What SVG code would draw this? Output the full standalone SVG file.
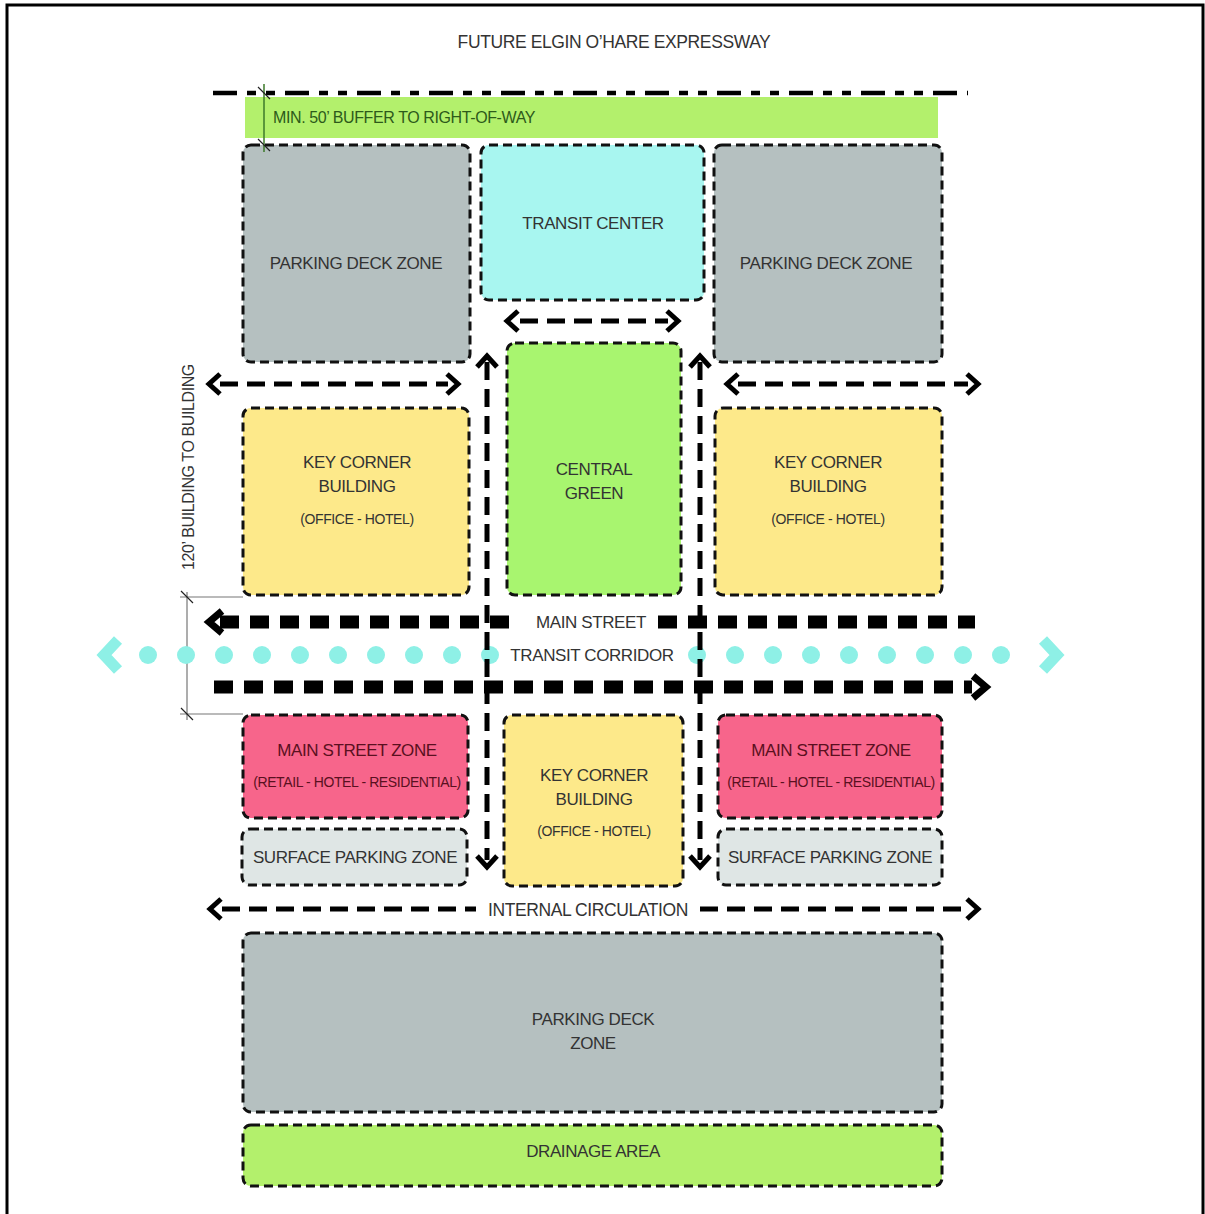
<svg xmlns="http://www.w3.org/2000/svg" width="1205" height="1214" viewBox="0 0 1205 1214">
<style>
  .zone{stroke:#111;stroke-width:3;stroke-dasharray:9 5}
  .t{font-family:"Liberation Sans",Arial,sans-serif;font-size:17px;fill:#333;text-anchor:middle;dominant-baseline:central;letter-spacing:-0.4px}
  .s{font-size:14px}
  .pk{fill:#5a1020}
  .arr{fill:none;stroke:#000;stroke-width:5;stroke-dasharray:18 9}
  .head{fill:none;stroke:#000;stroke-width:5;stroke-linecap:butt;stroke-linejoin:miter}
  .ms{fill:none;stroke:#000;stroke-width:13;stroke-dasharray:19 11}
  .mhead{fill:none;stroke:#000;stroke-width:7;stroke-linejoin:miter}
  .dim{fill:none;stroke:#777;stroke-width:1.2}
  .tick{fill:none;stroke:#222;stroke-width:1.2}
</style>
<rect x="0" y="0" width="1205" height="1214" fill="#fff"/>
<rect x="7" y="5" width="1196" height="1212" fill="none" stroke="#000" stroke-width="3"/>

<g id="title"><text class="t" x="614" y="42" style="font-size:17.5px">FUTURE ELGIN O’HARE EXPRESSWAY</text></g>

<g id="buffer">
  <rect x="245" y="97" width="693" height="41" fill="#b3f06c"/>
  <text class="t" x="273" y="117" style="text-anchor:start;font-size:16px;fill:#2d5a1a">MIN. 50’ BUFFER TO RIGHT-OF-WAY</text>
</g>

<g id="nodes">
  <g id="parking-deck-left"><rect class="zone" x="243" y="145" width="227" height="217" rx="8" fill="#b5c0c0"/><text class="t" x="356" y="263">PARKING DECK ZONE</text></g>
  <g id="transit-center"><rect class="zone" x="481" y="145" width="223" height="155" rx="8" fill="#a8f6f0"/><text class="t" x="593" y="223">TRANSIT CENTER</text></g>
  <g id="parking-deck-right"><rect class="zone" x="714" y="145" width="228" height="217" rx="8" fill="#b5c0c0"/><text class="t" x="826" y="263">PARKING DECK ZONE</text></g>
  <g id="central-green"><rect class="zone" x="507" y="343" width="174" height="252" rx="8" fill="#a8f56f"/><text class="t" x="594" y="469">CENTRAL</text><text class="t" x="594" y="493">GREEN</text></g>
  <g id="key-corner-left"><rect class="zone" x="243" y="408" width="226" height="187" rx="8" fill="#fde98a"/><text class="t" x="357" y="462">KEY CORNER</text><text class="t" x="357" y="486">BUILDING</text><text class="t s" x="357" y="519">(OFFICE - HOTEL)</text></g>
  <g id="key-corner-right"><rect class="zone" x="715" y="408" width="227" height="187" rx="8" fill="#fde98a"/><text class="t" x="828" y="462">KEY CORNER</text><text class="t" x="828" y="486">BUILDING</text><text class="t s" x="828" y="519">(OFFICE - HOTEL)</text></g>
  <g id="main-street-left"><rect class="zone" x="243" y="715" width="225" height="103" rx="8" fill="#f7658b"/><text class="t pk" x="357" y="750">MAIN STREET ZONE</text><text class="t s pk" x="357" y="782">(RETAIL - HOTEL - RESIDENTIAL)</text></g>
  <g id="main-street-right"><rect class="zone" x="718" y="715" width="224" height="103" rx="8" fill="#f7658b"/><text class="t pk" x="831" y="750">MAIN STREET ZONE</text><text class="t s pk" x="831" y="782">(RETAIL - HOTEL - RESIDENTIAL)</text></g>
  <g id="key-corner-bottom"><rect class="zone" x="504" y="715" width="179" height="171" rx="8" fill="#fde98a"/><text class="t" x="594" y="775">KEY CORNER</text><text class="t" x="594" y="799">BUILDING</text><text class="t s" x="594" y="831">(OFFICE - HOTEL)</text></g>
  <g id="surface-parking-left"><rect class="zone" x="242" y="829" width="225" height="56" rx="8" fill="#dfe6e5"/><text class="t" x="355" y="857">SURFACE PARKING ZONE</text></g>
  <g id="surface-parking-right"><rect class="zone" x="718" y="829" width="224" height="56" rx="8" fill="#dfe6e5"/><text class="t" x="830" y="857">SURFACE PARKING ZONE</text></g>
  <g id="parking-deck-bottom"><rect class="zone" x="243" y="933" width="699" height="179" rx="8" fill="#b5c0c0"/><text class="t" x="593" y="1019">PARKING DECK</text><text class="t" x="593" y="1043">ZONE</text></g>
  <g id="drainage"><rect class="zone" x="243" y="1125" width="699" height="61" rx="8" fill="#b3f06c"/><text class="t" x="593" y="1151">DRAINAGE AREA</text></g>
</g>

<g id="connectors">
  <!-- right-of-way line -->
  <path d="M213 93 H968" fill="none" stroke="#000" stroke-width="4.5" stroke-dasharray="24 10 9 10 9 10"/>
  <!-- buffer dimension -->
  <path d="M264 84 V152" fill="none" stroke="#3c7a2a" stroke-width="1.5"/>
  <path class="tick" d="M258 87 L270 99 M258 139 L270 151"/>
  <!-- 120' dimension -->
  <path class="dim" d="M187 592 V720 M180 597 H243 M180 714 H243"/>
  <path class="tick" d="M181 591 L193 603 M181 708 L193 720"/>
  <text class="t" x="0" y="0" style="font-size:16px" transform="translate(188 467) rotate(-90)">120’ BUILDING TO BUILDING</text>

  <!-- transit corridor dots -->
  <g fill="#8ef0e6">
    <circle cx="148" cy="655" r="9"/><circle cx="186" cy="655" r="9"/><circle cx="224" cy="655" r="9"/><circle cx="262" cy="655" r="9"/><circle cx="300" cy="655" r="9"/><circle cx="338" cy="655" r="9"/><circle cx="376" cy="655" r="9"/><circle cx="414" cy="655" r="9"/><circle cx="452" cy="655" r="9"/><circle cx="490" cy="655" r="9"/>
    <circle cx="697" cy="655" r="9"/><circle cx="735" cy="655" r="9"/><circle cx="773" cy="655" r="9"/><circle cx="811" cy="655" r="9"/><circle cx="849" cy="655" r="9"/><circle cx="887" cy="655" r="9"/><circle cx="925" cy="655" r="9"/><circle cx="963" cy="655" r="9"/><circle cx="1001" cy="655" r="9"/>
  </g>
  <path d="M118 640 L104 655 L118 670 M1043 640 L1057 655 L1043 670" fill="none" stroke="#8ef0e6" stroke-width="11" stroke-linejoin="miter"/>
  <text class="t" x="592" y="655">TRANSIT CORRIDOR</text>

  <!-- main street rows -->
  <path class="ms" d="M220 622 H515"/>
  <path class="ms" d="M658 622 H975"/>
  <path class="mhead" d="M222 611 L209 622 L222 633"/>
  <text class="t" x="591" y="622">MAIN STREET</text>
  <path class="ms" d="M214 687 H972"/>
  <path class="mhead" d="M973 676 L986 687 L973 698"/>

  <!-- top arrows -->
  <path class="arr" d="M520 321 H668"/>
  <path class="head" d="M518 311 L507 321 L518 331 M667 311 L678 321 L667 331"/>
  <path class="arr" d="M220 384 H448"/>
  <path class="head" d="M220 374 L209 384 L220 394 M447 374 L458 384 L447 394"/>
  <path class="arr" d="M738 384 H968"/>
  <path class="head" d="M738 374 L727 384 L738 394 M967 374 L978 384 L967 394"/>

  <!-- vertical arrows -->
  <path class="arr" d="M487 362 V860" stroke-dasharray="16 8"/>
  <path class="head" d="M477 367 L487 356 L497 367 M477 856 L487 867 L497 856"/>
  <path class="arr" d="M700 362 V860" stroke-dasharray="16 8"/>
  <path class="head" d="M690 367 L700 356 L710 367 M690 856 L700 867 L710 856"/>

  <!-- internal circulation -->
  <path class="arr" d="M222 909 H476"/>
  <path class="arr" d="M700 909 H968"/>
  <path class="head" d="M221 899 L210 909 L221 919 M967 899 L978 909 L967 919"/>
  <text class="t" x="588" y="910" style="font-size:17.5px">INTERNAL CIRCULATION</text>
</g>
</svg>
